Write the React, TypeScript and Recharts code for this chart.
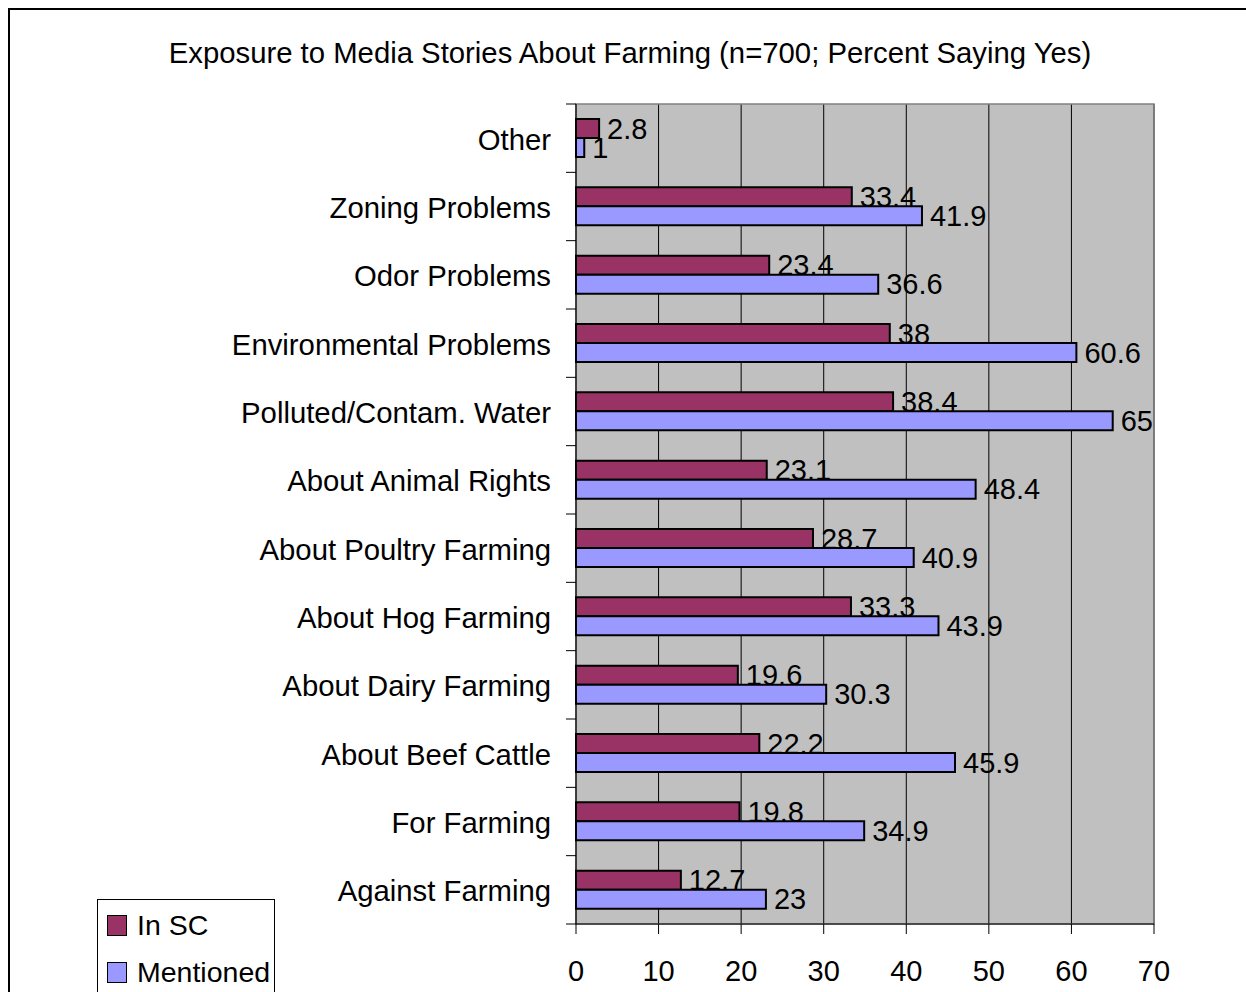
import { Bar, BarChart, CartesianGrid, LabelList, Legend, ReferenceArea, XAxis, YAxis } from 'recharts';

const categories = [
  'Other',
  'Zoning Problems',
  'Odor Problems',
  'Environmental Problems',
  'Polluted/Contam. Water',
  'About Animal Rights',
  'About Poultry Farming',
  'About Hog Farming',
  'About Dairy Farming',
  'About Beef Cattle',
  'For Farming',
  'Against Farming',
];
const inSC = [2.8, 33.4, 23.4, 38, 38.4, 23.1, 28.7, 33.3, 19.6, 22.2, 19.8, 12.7];
const mentioned = [1, 41.9, 36.6, 60.6, 65, 48.4, 40.9, 43.9, 30.3, 45.9, 34.9, 23];
const xTicks = [0, 10, 20, 30, 40, 50, 60, 70];

const data = categories.map((name, i) => ({ name, inSC: inSC[i], mentioned: mentioned[i] }));

const FONT = '"Liberation Sans", Arial, sans-serif';

function CategoryTick(props: any) {
  const { x, y, payload, index } = props;
  const half = payload?.offset || 34.17;
  const axisX = x + 25;
  return (
    <g>
      <line x1={axisX - 10} x2={axisX} y1={y - half} y2={y - half} stroke="#000" />
      {index === categories.length - 1 && (
        <line x1={axisX - 10} x2={axisX} y1={y + half} y2={y + half} stroke="#000" />
      )}
      <text x={x} y={y + 1} dy="0.36em" textAnchor="end" fontSize={29.3} fill="#000">
        {payload.value}
      </text>
    </g>
  );
}

function LegendBox(props: any) {
  const items = props.payload || [];
  return (
    <div style={{ width: 178, height: 110, border: '1px solid #000', boxSizing: 'border-box', position: 'relative', background: '#fff' }}>
      {items.map((item: any, i: number) => (
        <div key={item.value} style={{ position: 'absolute', left: 9, top: 15 + i * 46.5, display: 'flex', alignItems: 'center', height: 21 }}>
          <span style={{ width: 20, height: 21, background: item.color, border: '1.5px solid #000', boxSizing: 'border-box', display: 'inline-block' }} />
          <span style={{ marginLeft: 10, fontSize: 28.5, color: '#000', lineHeight: '21px' }}>{item.value}</span>
        </div>
      ))}
    </div>
  );
}

export default function App() {
  return (
    <div
      style={{
        position: 'fixed',
        left: 8,
        top: 8,
        width: 1250,
        height: 1000,
        border: '2px solid #000',
        boxSizing: 'border-box',
        fontFamily: FONT,
        background: '#fff',
      }}
    >
      <div style={{ position: 'absolute', left: -2, top: -2, width: 1244, height: 992 }}>
        <div style={{ position: 'absolute', left: 0, top: 29, width: 1244, textAlign: 'center', fontSize: 29.3, lineHeight: '32px', color: '#000' }}>
          Exposure to Media Stories About Farming (n=700; Percent Saying Yes)
        </div>
        <BarChart
          width={1244}
          height={992}
          data={data}
          layout="vertical"
          margin={{ top: 96, right: 98, bottom: 16, left: 0 }}
          barCategoryGap="22%"
          barGap={0}
          style={{ position: 'absolute', left: 0, top: 0 }}
        >
          <CartesianGrid horizontal={false} stroke="#000" fill="#C0C0C0" />
          <XAxis
            type="number"
            domain={[0, 70]}
            ticks={xTicks}
            interval={0}
            height={60}
            tickSize={10}
            tickMargin={26}
            axisLine={{ stroke: '#000' }}
            tickLine={{ stroke: '#000' }}
            tick={{ fontSize: 29, fill: '#000' }}
          />
          <YAxis
            type="category"
            dataKey="name"
            width={568}
            interval={0}
            tickSize={10}
            tickMargin={15}
            tickLine={false}
            axisLine={{ stroke: '#000' }}
            tick={<CategoryTick />}
          />
          <ReferenceArea x1={0} x2={70} fill="none" stroke="#808080" strokeWidth={1.5} ifOverflow="visible" />
          <Bar dataKey="inSC" name="In SC" fill="#993366" stroke="#000" strokeWidth={2} isAnimationActive={false}>
            <LabelList dataKey="inSC" position="right" offset={8} fill="#000" fontSize={29} />
          </Bar>
          <Bar dataKey="mentioned" name="Mentioned" fill="#9999FF" stroke="#000" strokeWidth={2} isAnimationActive={false}>
            <LabelList dataKey="mentioned" position="right" offset={8} fill="#000" fontSize={29} />
          </Bar>
          <Legend
            layout="vertical"
            align="center"
            verticalAlign="middle"
            content={<LegendBox />}
            wrapperStyle={{ left: 89, top: 891, width: 178 }}
          />
        </BarChart>
      </div>
    </div>
  );
}
